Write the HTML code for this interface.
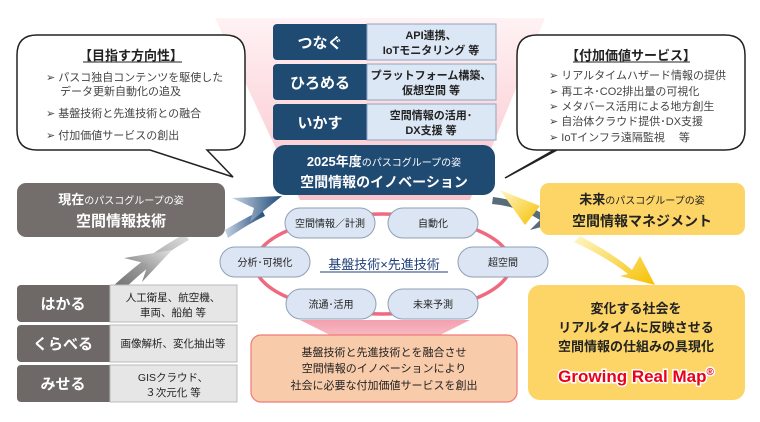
<!DOCTYPE html>
<html><head><meta charset="utf-8"><style>
body{margin:0;width:760px;height:417px;background:#fff;overflow:hidden;font-family:"Liberation Sans","Noto Sans CJK JP",sans-serif;}
svg text{font-family:"Liberation Sans","Noto Sans CJK JP",sans-serif;}
</style></head><body>
<svg width="760" height="417" viewBox="0 0 760 417" xmlns="http://www.w3.org/2000/svg">
<defs>
<linearGradient id="pk" x1="0" y1="0" x2="0" y2="1"><stop offset="0" stop-color="#fff2f4"/><stop offset="1" stop-color="#f9c3cb"/></linearGradient>
<linearGradient id="pk2" x1="0" y1="0" x2="0" y2="1"><stop offset="0" stop-color="#f4a0ae"/><stop offset="1" stop-color="#f8c8d0"/></linearGradient>
<linearGradient id="ga" x1="0" y1="1" x2="1" y2="0"><stop offset="0" stop-color="#6b6b6b"/><stop offset="1" stop-color="#e0e0e0"/></linearGradient>
<linearGradient id="ba" x1="0" y1="0" x2="1" y2="0"><stop offset="0" stop-color="#c8d4e4"/><stop offset="1" stop-color="#1f4a78"/></linearGradient>
<linearGradient id="ya" x1="0" y1="0" x2="1" y2="1"><stop offset="0" stop-color="#fff6c8"/><stop offset="1" stop-color="#f6c000"/></linearGradient>
</defs>
<polygon points="215,18 545,18 470,200 300,200" fill="url(#pk)"/>
<polygon points="300,320 470,320 420,345 350,345" fill="url(#pk2)"/>
<ellipse cx="383" cy="264" rx="128" ry="50" fill="none" stroke="#ef6a7f" stroke-width="3.5"/>
<path d="M37,35 H225 Q245,35 245,55 V130 Q245,150 225,150 H207 L233,177 L150,150 H37 Q17,150 17,130 V55 Q17,35 37,35 Z" fill="#fff" stroke="#222" stroke-width="1.5"/>
<path d="M537,35 H725 Q745,35 745,55 V130 Q745,150 725,150 H557 L505,178 L554,150 H537 Q517,150 517,130 V55 Q517,35 537,35 Z" fill="#fff" stroke="#222" stroke-width="1.5"/>
<text x="131" y="60" font-size="13" font-weight="bold" text-anchor="middle" fill="#222">【目指す方向性】</text>
<line x1="83" y1="62" x2="182" y2="62" stroke="#222"/>
<g font-size="11" fill="#444">
<text x="46" y="81">➢ パスコ独自コンテンツを駆使した</text>
<text x="60" y="95">データ更新自動化の追及</text>
<text x="46" y="117">➢ 基盤技術と先進技術との融合</text>
<text x="46" y="139">➢ 付加価値サービスの創出</text>
</g>
<text x="631" y="60" font-size="13" font-weight="bold" text-anchor="middle" fill="#222">【付加価値サービス】</text>
<line x1="573" y1="62" x2="690" y2="62" stroke="#222"/>
<g font-size="11" fill="#444">
<text x="549" y="79">➢ リアルタイムハザード情報の提供</text>
<text x="549" y="95">➢ 再エネ･CO2排出量の可視化</text>
<text x="549" y="110">➢ メタバース活用による地方創生</text>
<text x="549" y="125">➢ 自治体クラウド提供･DX支援</text>
<text x="549" y="141">➢ IoTインフラ遠隔監視　 等</text>
</g>
<g>
<rect x="273" y="24" width="100" height="36" rx="4" fill="#1f4a72"/><rect x="367" y="24" width="129" height="36" fill="#dce7f5" stroke="#8fa5c0"/>
<rect x="273" y="64" width="100" height="36" rx="4" fill="#1f4a72"/><rect x="367" y="64" width="129" height="36" fill="#dce7f5" stroke="#8fa5c0"/>
<rect x="273" y="104" width="100" height="36" rx="4" fill="#1f4a72"/><rect x="367" y="104" width="129" height="36" fill="#dce7f5" stroke="#8fa5c0"/>
</g>
<g font-size="15" font-weight="bold" fill="#fff" text-anchor="middle">
<text x="320" y="48">つなぐ</text><text x="320" y="88">ひろめる</text><text x="320" y="128">いかす</text>
</g>
<g font-size="11" font-weight="bold" fill="#222" text-anchor="middle">
<text x="431" y="39">API連携、</text><text x="431" y="54">IoTモニタリング 等</text>
<text x="431" y="79">プラットフォーム構築、</text><text x="431" y="94">仮想空間 等</text>
<text x="431" y="119">空間情報の活用･</text><text x="431" y="134">DX支援 等</text>
</g>
<rect x="273" y="145" width="222" height="50" rx="12" fill="#1f4a72"/>
<text x="384" y="166" font-size="13" font-weight="bold" fill="#fff" text-anchor="middle">2025年度<tspan font-size="10" font-weight="normal">のパスコグループの姿</tspan></text>
<text x="384" y="187" font-size="14" font-weight="bold" fill="#fff" text-anchor="middle">空間情報のイノベーション</text>
<!-- arrows -->
<path d="M112,287 Q150,252 185,234 L189,240 Q156,258 122,291 Z" fill="url(#ga)"/>
<path d="M124,258 L172,250 L142,282 L148,264 Z" fill="url(#ga)"/>
<path d="M225,230 Q245,218 262,210 L265,216 Q248,224 228,238 Z" fill="url(#ba)"/>
<path d="M232,198 L282,196 L250,222 L254,208 Z" fill="url(#ba)"/>
<path d="M493,197 Q520,200 545,215 L546,205 L560,222 L530,230 L540,220 Q518,206 492,204 Z" fill="#586c7a"/>
<path d="M500,190 L540,206 L525,225 Z" fill="url(#ya)"/>
<path d="M580,236 Q615,255 632,270 L640,256 L655,285 L620,276 L628,274 Q608,258 574,242 Z" fill="url(#ya)"/>
<rect x="17" y="183" width="208" height="54" rx="9" fill="#736e6c"/>
<text x="121" y="204" font-size="13" font-weight="bold" fill="#fff" text-anchor="middle">現在<tspan font-size="10" font-weight="normal">のパスコグループの姿</tspan></text>
<text x="121" y="226" font-size="15" font-weight="bold" fill="#fff" text-anchor="middle">空間情報技術</text>
<rect x="540" y="183" width="205" height="52" rx="9" fill="#fcd566"/>
<text x="642" y="204" font-size="13" font-weight="bold" fill="#222" text-anchor="middle">未来<tspan font-size="10" font-weight="normal">のパスコグループの姿</tspan></text>
<text x="642" y="226" font-size="14" font-weight="bold" fill="#222" text-anchor="middle">空間情報マネジメント</text>
<g>
<rect x="17" y="285" width="100" height="37" rx="4" fill="#6e6967"/><rect x="110" y="285" width="127" height="37" fill="#e6e6e6" stroke="#bbb"/>
<rect x="17" y="325" width="100" height="37" rx="4" fill="#6e6967"/><rect x="110" y="325" width="127" height="37" fill="#e6e6e6" stroke="#bbb"/>
<rect x="17" y="365" width="100" height="37" rx="4" fill="#6e6967"/><rect x="110" y="365" width="127" height="37" fill="#e6e6e6" stroke="#bbb"/>
</g>
<g font-size="15" font-weight="bold" fill="#fff" text-anchor="middle">
<text x="63" y="309">はかる</text><text x="63" y="349">くらべる</text><text x="63" y="389">みせる</text>
</g>
<g font-size="10.5" fill="#222" text-anchor="middle">
<text x="173" y="301">人工衛星、航空機、</text><text x="173" y="316">車両、船舶 等</text>
<text x="173" y="347">画像解析、変化抽出等</text>
<text x="173" y="381">GISクラウド、</text><text x="173" y="396">３次元化 等</text>
</g>
<g fill="#dce5f3" stroke="#8f9fb5" stroke-width="1">
<rect x="285" y="208" width="90" height="30" rx="15"/>
<rect x="388" y="208" width="90" height="30" rx="15"/>
<rect x="220" y="247" width="90" height="30" rx="15"/>
<rect x="458" y="247" width="90" height="30" rx="15"/>
<rect x="286" y="289" width="90" height="30" rx="15"/>
<rect x="388" y="289" width="90" height="30" rx="15"/>
</g>
<g font-size="10" fill="#222" text-anchor="middle">
<text x="330" y="227">空間情報／計測</text><text x="433" y="227">自動化</text>
<text x="265" y="266">分析･可視化</text><text x="503" y="266">超空間</text>
<text x="331" y="308">流通･活用</text><text x="433" y="308">未来予測</text>
</g>
<text x="384" y="269" font-size="13" fill="#1f3f78" text-anchor="middle">基盤技術×先進技術</text>
<line x1="320" y1="272" x2="448" y2="272" stroke="#1f3f78"/>
<rect x="251" y="335" width="266" height="67" rx="10" fill="#f8cbaa" stroke="#f07a78" stroke-width="1.2"/>
<g font-size="11" fill="#222" text-anchor="middle">
<text x="384" y="356">基盤技術と先進技術とを融合させ</text>
<text x="384" y="372">空間情報のイノベーションにより</text>
<text x="384" y="389">社会に必要な付加価値サービスを創出</text>
</g>
<rect x="528" y="285" width="217" height="115" rx="12" fill="#fcd566"/>
<g font-size="13" fill="#222" text-anchor="middle" font-weight="bold">
<text x="636" y="313">変化する社会を</text>
<text x="636" y="332">リアルタイムに反映させる</text>
<text x="636" y="351">空間情報の仕組みの具現化</text>
</g>
<text x="636" y="382" font-size="17" font-weight="bold" fill="#e8001c" stroke="#fff" stroke-width="3" paint-order="stroke" text-anchor="middle">Growing Real Map<tspan font-size="10" dy="-7">®</tspan></text>
</svg>
</body></html>
